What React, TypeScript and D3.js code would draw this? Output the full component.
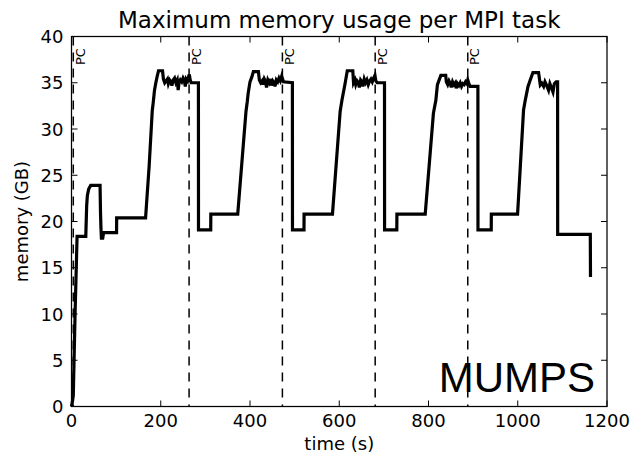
import React from 'react';
import * as d3 from 'd3';

type P = [number, number];

const xTicks = [0, 200, 400, 600, 800, 1000, 1200];
const yTicks = [0, 5, 10, 15, 20, 25, 30, 35, 40];
const pcTimes = [4, 263.5, 472.6, 680.5, 888];
const pcLabel = 'PC';
const title = 'Maximum memory usage per MPI task';
const xLabel = 'time (s)';
const yLabel = 'memory (GB)';
const solverName = 'MUMPS';

// startup phase + first cycle
const startup: P[] = [
  [0, 0], [2, 0.5], [4, 1.2], [8, 10], [12.5, 18.4], [32, 18.4], [34, 21.7], [35.5, 22.8],
  [38.5, 23.5], [43, 23.9], [64, 23.9], [65, 21], [66, 19.3], [67, 18.2], [70, 18.2],
  [72, 18.8], [101, 18.8], [101.2, 20.4], [166, 20.4], [174, 26], [181, 32], [183, 32.8],
  [186, 34.2], [189, 35.0], [192, 35.7], [195, 36.3], [204, 36.3],
];
const cycle0Top: P[] = [
  [206, 35.4], [209, 35.0], [212, 35.2], [215, 35.4], [217, 34.9], [220, 35.3], [223, 35.1],
  [225, 34.7], [228, 35.3], [231, 35.5], [234, 35.0], [237, 35.3], [239, 34.2], [241, 35.0],
  [244, 35.3], [247, 35.1], [250, 35.5], [253, 35.2], [255, 34.6], [257, 35.4], [260, 35.2],
  [262, 35.6], [264, 35.9], [266, 35.3], [268, 35.0], [284.4, 35.0],
];
const cycle1: P[] = [
  [284.6, 19.1], [312, 19.1], [312.2, 20.8], [372.5, 20.8], [391, 31.9], [394, 33.0],
  [396, 33.9], [400, 35.1], [404, 35.6], [407.6, 36.2], [418.8, 36.2],
  [421, 35.3], [424, 35.0], [427, 35.2], [429, 34.8], [432, 35.4], [435, 35.1], [437, 34.5],
  [440, 35.3], [443, 35.0], [446, 35.4], [448, 34.7], [451, 35.2], [454, 35.0], [456, 34.6],
  [459, 35.3], [462, 35.1], [465, 35.5], [468, 35.2], [471, 35.7], [473, 35.4], [475, 35.1],
  [495, 35.0],
];
const cycle2: P[] = [
  [495.2, 19.1], [521, 19.1], [521.2, 20.8], [584.8, 20.8], [602, 31.9], [606, 33.1],
  [613, 34.9], [618, 36.3], [630.4, 36.3],
  [632, 35.0], [635, 35.3], [637, 34.8], [640, 35.2], [643, 35.0], [645, 34.5], [648, 35.3],
  [651, 35.1], [653, 34.6], [656, 35.4], [659, 35.0], [662, 35.3], [665, 34.8], [668, 35.2],
  [671, 35.4], [674, 35.1], [677, 35.5], [680, 35.8], [682, 35.2], [685, 35.0], [701.4, 35.0],
];
const cycle3: P[] = [
  [701.6, 19.1], [729, 19.1], [729.2, 20.8], [792.6, 20.8], [811, 31.7], [816.5, 33.1],
  [820, 34.8], [827.7, 35.8], [838.6, 35.8],
  [840, 35.1], [843, 34.8], [846, 35.2], [849, 34.9], [851, 34.5], [854, 35.1], [857, 34.8],
  [860, 35.0], [862, 34.4], [865, 34.9], [868, 34.7], [871, 35.0], [874, 34.6], [877, 34.9],
  [880, 34.8], [883, 35.1], [886, 34.9], [888, 35.3], [890, 35.0], [893, 34.6], [910.7, 34.6],
];
const cycle4: P[] = [
  [910.9, 19.1], [940.6, 19.1], [940.8, 20.8], [999.6, 20.8], [1013, 32.05], [1016.8, 33.1],
  [1023, 34.6], [1028, 35.3], [1034, 36.1], [1046.7, 36.1],
  [1050.5, 34.75], [1054, 34.95], [1058, 34.6], [1061, 35.1], [1064, 34.8], [1069, 34.2],
  [1072, 34.9], [1076, 34.4], [1079, 34.0], [1082, 34.9], [1086, 35.1], [1089.3, 35.1],
];
const tail: P[] = [[1089.5, 18.6], [1162.6, 18.6], [1163, 14.0]];

const series: P[] = [...startup, ...cycle0Top, ...cycle1, ...cycle2, ...cycle3, ...cycle4, ...tail];

export default function App() {
  const W = 636;
  const H = 461;
  const x = d3.scaleLinear().domain([0, 1200]).range([71.5, 607]);
  const y = d3.scaleLinear().domain([0, 40]).range([406.5, 36.5]);
  const line = d3.line<P>().x((d) => x(d[0])).y((d) => y(d[1]));
  const font = '"DejaVu Sans", sans-serif';
  const tl = 6;
  const [x0, x1] = x.range();
  const [y0, y1] = y.range();

  return (
    <svg width={W} height={H} style={{ position: 'absolute', left: 0, top: 0, background: '#fff' }}>
      <rect x={0} y={0} width={W} height={H} fill="#fff" />
      {pcTimes.map((t, i) => (
        <line key={'pc' + i} x1={x(t)} x2={x(t)} y1={y1} y2={y0} stroke="#000" strokeWidth={1.5} strokeDasharray="9,7" />
      ))}
      {pcTimes.map((t, i) => (
        <text key={'pct' + i} transform={`translate(${x(t) + 11.5},${65}) rotate(-90)`} fontFamily={font} fontSize={13} fill="#000">
          {pcLabel}
        </text>
      ))}
      <path d={line(series) || ''} fill="none" stroke="#000" strokeWidth={3.2} strokeLinejoin="miter" />
      <rect x={x0} y={y1} width={x1 - x0} height={y0 - y1} fill="none" stroke="#000" strokeWidth={1.25} />
      {xTicks.map((t) => (
        <g key={'xt' + t}>
          <line x1={x(t)} x2={x(t)} y1={y0} y2={y0 - tl} stroke="#000" strokeWidth={1} />
          <line x1={x(t)} x2={x(t)} y1={y1} y2={y1 + tl} stroke="#000" strokeWidth={1} />
          <text x={x(t)} y={427} textAnchor="middle" fontFamily={font} fontSize={18} fill="#000">{t}</text>
        </g>
      ))}
      {yTicks.map((t) => (
        <g key={'yt' + t}>
          <line x1={x0} x2={x0 + tl} y1={y(t)} y2={y(t)} stroke="#000" strokeWidth={1} />
          <line x1={x1} x2={x1 - tl} y1={y(t)} y2={y(t)} stroke="#000" strokeWidth={1} />
          <text x={63.5} y={y(t) + 6.5} textAnchor="end" fontFamily={font} fontSize={18} fill="#000">{t}</text>
        </g>
      ))}
      <text x={(x0 + x1) / 2} y={28} textAnchor="middle" fontFamily={font} fontSize={23} fill="#000">{title}</text>
      <text x={(x0 + x1) / 2} y={450} textAnchor="middle" fontFamily={font} fontSize={18} fill="#000">{xLabel}</text>
      <text transform={`translate(${28},${(y0 + y1) / 2}) rotate(-90)`} textAnchor="middle" fontFamily={font} fontSize={18} fill="#000">{yLabel}</text>
      <text x={595} y={392} textAnchor="end" fontFamily={'"Liberation Sans", Arial, sans-serif'} fontSize={42} fill="#000">{solverName}</text>
    </svg>
  );
}
